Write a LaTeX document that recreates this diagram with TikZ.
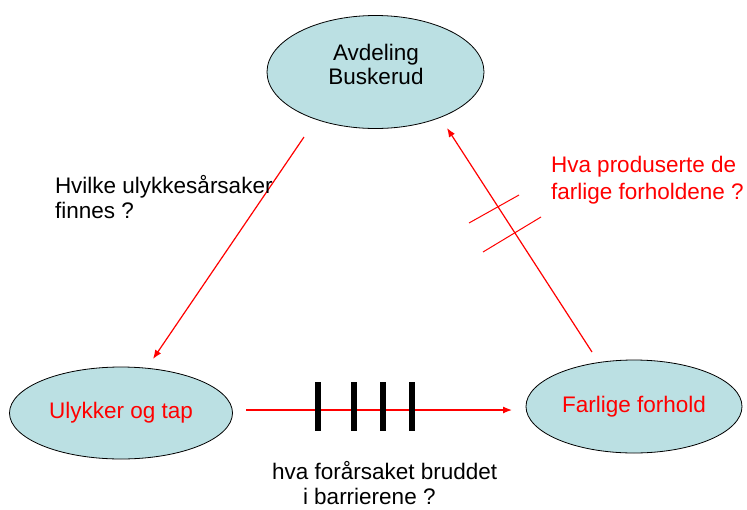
\documentclass[tikz,border=0pt]{standalone}
\usepackage{fontspec}
\setmainfont{Liberation Sans}
\usetikzlibrary{shapes.geometric,arrows.meta}
\definecolor{ellfill}{RGB}{187,224,227}
\definecolor{pred}{RGB}{255,0,0}
\tikzset{
  ell/.style={ellipse, draw=black, line width=0.8pt, fill=ellfill, inner sep=0pt, outer sep=0pt},
  txt/.style={font=\fontsize{22.5}{25}\selectfont, inner sep=0pt, outer sep=0pt},
  conn/.style={draw=pred, line width=1.2pt, -{Latex[length=9pt,width=7pt]}},
  bar/.style={draw=black, line width=6pt},
  tick/.style={draw=pred, line width=1pt}
}
\begin{document}
\begin{tikzpicture}[x=1pt,y=-1pt]
\useasboundingbox (0,0) rectangle (747,509);
% ellipses
\node[ell, minimum width=217pt, minimum height=113pt] (top) at (375.5,72) {};
\node[txt, align=center, font=\fontsize{22.5}{24}\selectfont] (toptxt) at (376,64) {Avdeling\\Buskerud};
\node[ell, minimum width=223pt, minimum height=92pt, text=pred, txt] (left) at (121,413) {Ulykker og tap};
\node[ell, minimum width=216pt, minimum height=93pt, text=pred, txt] (right) at (634,406.5) {Farlige forhold};
% connector end points
\coordinate (a1) at (304,137);
\coordinate (a2) at (153,359);
\coordinate (b1) at (592,352);
\coordinate (b2) at (447,128);
\coordinate (c1) at (246,410);
\coordinate (c2) at (512,410);
\draw[conn] (a1) -- (a2);
\draw[conn] (b1) -- (b2);
\draw[conn] (c1) -- (c2);
% barriers
\foreach \x/\n in {318/1,354/2,383/3,412/4}{
  \coordinate (bt\n) at (\x,382);
  \coordinate (bb\n) at (\x,431);
  \draw[bar] (bt\n) -- (bb\n);
}
% ticks across the right arrow
\coordinate (t1a) at (469,223);
\coordinate (t1b) at (519,195);
\coordinate (t2a) at (483,252);
\coordinate (t2b) at (541,217);
\draw[tick] (t1a) -- (t1b);
\draw[tick] (t2a) -- (t2b);
% labels (base anchor = last line)
\node[txt, align=left, anchor=base west, font=\fontsize{22.5}{25.5}\selectfont] (q1) at (55,218.5) {Hvilke ulykkesårsaker\\finnes ?};
\node[txt, align=left, anchor=base west, text=pred, font=\fontsize{22.5}{27}\selectfont] (q2) at (551,199) {Hva produserte de\\farlige forholdene ?};
\node[txt, align=left, anchor=base west, font=\fontsize{22.5}{24.5}\selectfont] (q3) at (272,504) {hva forårsaket bruddet\\\hspace*{31pt}i barrierene ?};
\end{tikzpicture}
\end{document}
